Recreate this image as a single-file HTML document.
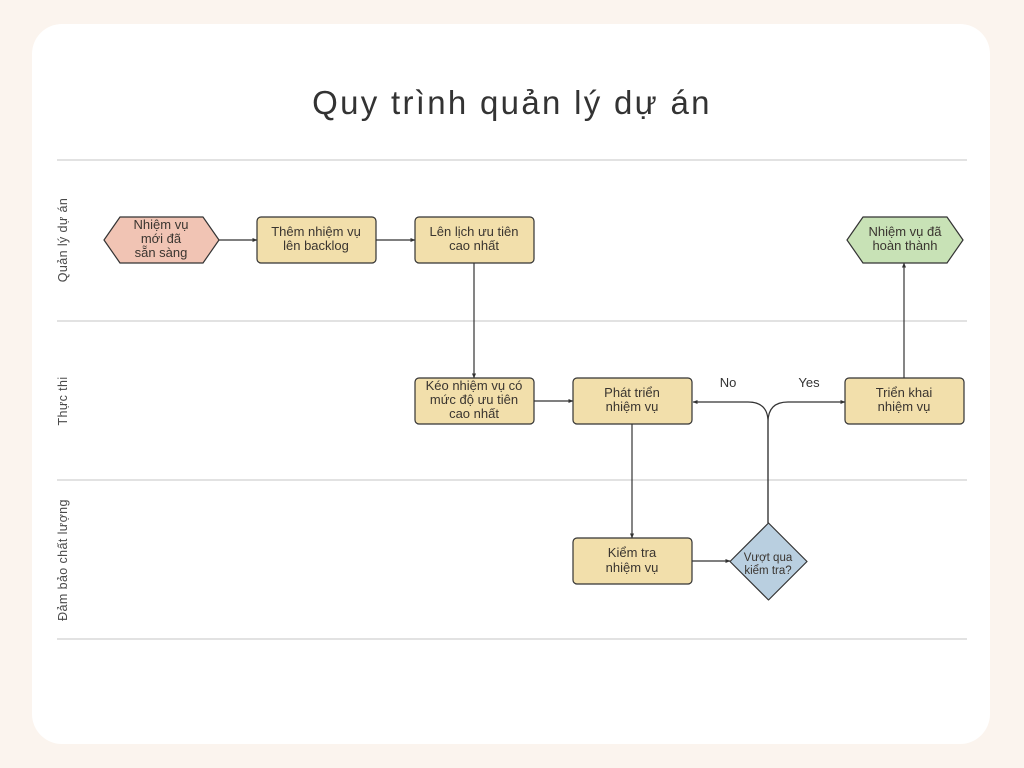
<!DOCTYPE html>
<html><head><meta charset="utf-8">
<style>
html,body{margin:0;padding:0;background:#FBF4EE;}
body{width:1024px;height:768px;overflow:hidden;position:relative;}
svg{position:absolute;left:0;top:0;}
text{font-family:"Liberation Sans","DejaVu Sans",sans-serif;}
</style></head>
<body>
<svg width="1024" height="768" viewBox="0 0 1024 768" xmlns="http://www.w3.org/2000/svg">
<defs>
<marker id="ah" viewBox="0 0 6 6" refX="5.5" refY="3" markerWidth="5" markerHeight="5" orient="auto" markerUnits="userSpaceOnUse">
<path d="M0,0.5 L6,3 L0,5.5 z" fill="#333"/>
</marker>
</defs>
<rect x="0" y="0" width="1024" height="768" fill="#FBF4EE"/>
<rect x="32" y="24" width="958" height="720" rx="30" ry="30" fill="#FFFFFF"/>

<text x="512" y="114" text-anchor="middle" font-size="33" fill="#333" letter-spacing="2.3">Quy trình quản lý dự án</text>

<g stroke="#D0D0D0" stroke-width="1.3">
<line x1="57" y1="160" x2="967" y2="160"/>
<line x1="57" y1="321" x2="967" y2="321"/>
<line x1="57" y1="480" x2="967" y2="480"/>
<line x1="57" y1="639" x2="967" y2="639"/>
</g>

<g font-size="12.5" fill="#4a4a4a" text-anchor="middle" letter-spacing="0.4">
<text transform="translate(67,240) rotate(-90)">Quản lý dự án</text>
<text transform="translate(67,401) rotate(-90)">Thực thi</text>
<text transform="translate(67,560) rotate(-90)">Đảm bảo chất lượng</text>
</g>

<!-- connectors -->
<g stroke="#333" stroke-width="1.2" fill="none">
<line x1="219" y1="240" x2="257" y2="240" marker-end="url(#ah)"/>
<line x1="376" y1="240" x2="415" y2="240" marker-end="url(#ah)"/>
<line x1="474" y1="263" x2="474" y2="378" marker-end="url(#ah)"/>
<line x1="534" y1="401" x2="573" y2="401" marker-end="url(#ah)"/>
<line x1="632" y1="424" x2="632" y2="538" marker-end="url(#ah)"/>
<line x1="692" y1="561" x2="730" y2="561" marker-end="url(#ah)"/>
<path d="M768,523 L768,422 Q768,402 748,402 L693,402" marker-end="url(#ah)"/>
<path d="M768,523 L768,422 Q768,402 788,402 L845,402" marker-end="url(#ah)"/>
<line x1="904" y1="378" x2="904" y2="263" marker-end="url(#ah)"/>
</g>

<g font-size="13" fill="#333" text-anchor="middle">
<text x="728" y="387">No</text>
<text x="809" y="387">Yes</text>
</g>

<!-- nodes -->
<g stroke="#333" stroke-width="1.2">
<path d="M120,217 L203,217 L219,240 L203,263 L120,263 L104,240 Z" fill="#F1C4B4" stroke-linejoin="round"/>
<rect x="257" y="217" width="119" height="46" rx="4" fill="#F2DFAB"/>
<rect x="415" y="217" width="119" height="46" rx="4" fill="#F2DFAB"/>
<rect x="415" y="378" width="119" height="46" rx="4" fill="#F2DFAB"/>
<rect x="573" y="378" width="119" height="46" rx="4" fill="#F2DFAB"/>
<rect x="845" y="378" width="119" height="46" rx="4" fill="#F2DFAB"/>
<path d="M863,217 L947,217 L963,240 L947,263 L863,263 L847,240 Z" fill="#C8E2B6" stroke-linejoin="round"/>
<rect x="573" y="538" width="119" height="46" rx="4" fill="#F2DFAB"/>
<path d="M768.5,523 L807,561.5 L768.5,600 L730,561.5 Z" fill="#B9CFE0" stroke-linejoin="round"/>
</g>

<g font-size="13" fill="#3a3530" text-anchor="middle">
<text x="161" y="229">Nhiệm vụ</text>
<text x="161" y="243">mới đã</text>
<text x="161" y="257">sẵn sàng</text>
<text x="316" y="236">Thêm nhiệm vụ</text>
<text x="316" y="250">lên backlog</text>
<text x="474" y="236">Lên lịch ưu tiên</text>
<text x="474" y="250">cao nhất</text>
<text x="474" y="390">Kéo nhiệm vụ có</text>
<text x="474" y="404">mức độ ưu tiên</text>
<text x="474" y="418">cao nhất</text>
<text x="632" y="397">Phát triển</text>
<text x="632" y="411">nhiệm vụ</text>
<text x="904" y="397">Triển khai</text>
<text x="904" y="411">nhiệm vụ</text>
<text x="905" y="236">Nhiệm vụ đã</text>
<text x="905" y="250">hoàn thành</text>
<text x="632" y="557">Kiểm tra</text>
<text x="632" y="572">nhiệm vụ</text>
<text x="768" y="561" font-size="11.5">Vượt qua</text>
<text x="768" y="574" font-size="11.5">kiểm tra?</text>
</g>
</svg>
</body></html>
